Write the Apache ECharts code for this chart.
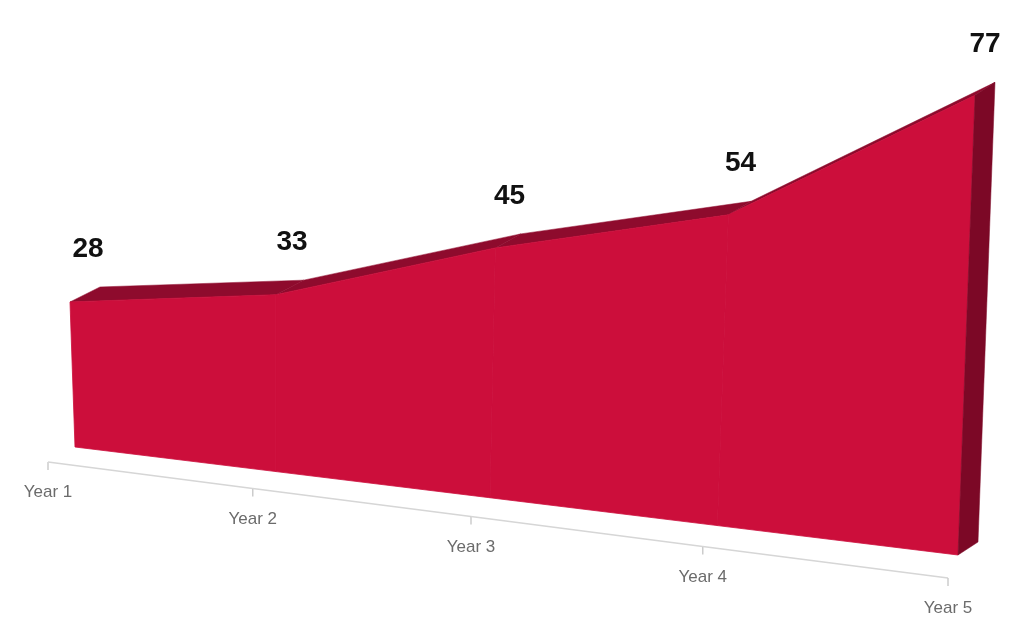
<!DOCTYPE html>
<html><head><meta charset="utf-8">
<script src="https://cdn.jsdelivr.net/npm/echarts@6/dist/echarts.min.js"></script>
<style>html,body{margin:0;padding:0;background:#fff}#c{width:1024px;height:637px}</style>
</head><body><div id="c"></div>
<script>
const categories = ['Year 1','Year 2','Year 3','Year 4','Year 5'];
const values = [28, 33, 45, 54, 77];

const chart = echarts.init(document.getElementById('c'));
const g = u => u * (0.88 + 0.12 * u);
function proj(api, i, v) {
  const p0 = api.coord([i, 0]);
  const p = api.coord([i, v]);
  const W = api.getWidth(), H = api.getHeight();
  const val = (p0[1] - p[1]) / (H / 100);
  const t = g(p0[0] / W);
  const base = 447 + 108 * t;
  const sc = 5.18 + 0.79 * t;
  return {
    top: [70 + 905 * t, base - val * sc],
    bot: [75 + 883 * t, base],
    d: [30 - 10 * t, -15 + 2 * t],
    t
  };
}
function add(a, d) { return [a[0] + d[0], a[1] + d[1]]; }

chart.setOption({
  animation: false,
  grid: { left: 0, right: 0, top: 0, bottom: 0 },
  xAxis: { type: 'category', data: categories, boundaryGap: false, show: false },
  yAxis: { type: 'value', min: 0, max: 100, show: false },
  series: [
    { // axis
      type: 'custom',
      z: 1,
      data: values.map((v, i) => [i, v]),
      renderItem(params, api) {
        const i = api.value(0);
        const W = api.getWidth();
        const pt = k => { const t = g(api.coord([k, 0])[0] / W); return [48 + 900 * t, 462 + 116 * t]; };
        const a = pt(i);
        const ch = [
          { type: 'line', shape: { x1: a[0], y1: a[1], x2: a[0], y2: a[1] + 8 }, style: { stroke: '#cccccc', lineWidth: 1.5 } },
          { type: 'text', style: { text: categories[i], x: a[0], y: a[1] + 22, align: 'center', verticalAlign: 'top', fill: '#6b6b6b', font: '17px "Liberation Sans", Arial, sans-serif' } }
        ];
        if (i < categories.length - 1) {
          const b = pt(i + 1);
          ch.push({ type: 'line', shape: { x1: a[0], y1: a[1], x2: b[0], y2: b[1] }, style: { stroke: '#d6d6d6', lineWidth: 1.5 } });
        }
        return { type: 'group', children: ch };
      }
    },
    { // 3D area
      type: 'custom',
      z: 2,
      data: values.map((v, i) => [i, v]),
      renderItem(params, api) {
        const i = api.value(0);
        const n = categories.length;
        const A = proj(api, i, api.value(1));
        const ch = [];
        if (i < n - 1) {
          const B = proj(api, i + 1, values[i + 1]);
          ch.push({ type: 'polygon', shape: { points: [A.top, add(A.top, A.d), add(B.top, B.d), B.top] }, style: { fill: '#8e0b2d', stroke: '#8e0b2d', lineWidth: 0.5 } });
          ch.push({ type: 'polygon', shape: { points: [A.top, B.top, B.bot, A.bot] }, style: { fill: '#cc0e3b', stroke: '#cc0e3b', lineWidth: 0.8 } });
        } else {
          ch.push({ type: 'polygon', shape: { points: [A.top, add(A.top, A.d), add(A.bot, A.d), A.bot] }, style: { fill: '#7c0826', stroke: '#7c0826', lineWidth: 0.5 } });
        }
        const lt = add(A.top, A.d);
        ch.push({ type: 'text', z2: 10, style: { text: String(values[i]), x: lt[0] - 12 + 2 * A.t, y: lt[1] - 38, align: 'center', verticalAlign: 'middle', fill: '#111', font: 'bold 28px "Liberation Sans", Arial, sans-serif' } });
        return { type: 'group', children: ch };
      }
    }
  ]
});
</script></body></html>
